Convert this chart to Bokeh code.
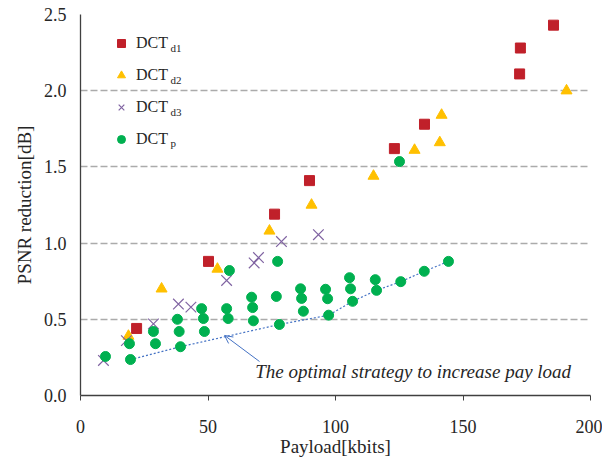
from bokeh.plotting import figure
from bokeh.models import (Range1d, FixedTicker, PrintfTickFormatter, Legend, LegendItem,
                          Label, Arrow, OpenHead)
from bokeh.embed import file_html
from bokeh.resources import INLINE

# ---- data ----
d1_x = [22.0, 50.2, 76.1, 89.8, 123.1, 134.9, 172.2, 172.5, 185.5]
d1_y = [0.44, 0.88, 1.19, 1.41, 1.62, 1.78, 2.11, 2.28, 2.43]

d2_x = [18.8, 31.8, 53.7, 74.1, 90.6, 114.9, 131.0, 141.6, 140.9, 190.6]
d2_y = [0.39, 0.70, 0.83, 1.08, 1.25, 1.44, 1.61, 1.84, 1.66, 2.00]

d3_x = [9.0, 18.0, 28.6, 38.4, 43.3, 57.3, 68.1, 69.8, 78.8, 93.3]
d3_y = [0.23, 0.36, 0.47, 0.60, 0.58, 0.755, 0.87, 0.905, 1.01, 1.055]

p_x = [9.8, 19.2, 19.6, 28.6, 29.4, 38.0, 38.7, 39.2, 47.5, 48.2, 48.6, 57.3, 57.9,
       58.4, 67.1, 67.5, 67.8, 77.3, 76.8, 78.0, 86.3, 86.7, 87.4, 96.1, 96.9, 97.3,
       105.5, 105.9, 106.7, 115.6, 116.1, 125.6, 134.8, 144.3, 125.1]
p_y = [0.256, 0.34, 0.236, 0.42, 0.34, 0.50, 0.42, 0.32, 0.57, 0.505, 0.42, 0.57, 0.505,
       0.82, 0.645, 0.577, 0.49, 0.88, 0.65, 0.466, 0.70, 0.637, 0.553, 0.697, 0.635, 0.527,
       0.773, 0.70, 0.618, 0.76, 0.69, 0.747, 0.815, 0.88, 1.535]

opt_x = [19.6, 39.2, 78.0, 97.3, 106.7, 116.1, 125.6, 134.8, 144.3]
opt_y = [0.236, 0.32, 0.466, 0.527, 0.618, 0.69, 0.747, 0.815, 0.88]

x_ticks = [0, 50, 100, 150, 200]
y_ticks = [0.0, 0.5, 1.0, 1.5, 2.0, 2.5]

legend_base = "DCT"
legend_subs = ["d1", "d2", "d3", "p"]
annotation_text = "The optimal strategy to increase pay load"

FONT = "Liberation Serif"
TXT = "#262626"

p = figure(frame_width=510, frame_height=381, output_backend="svg", toolbar_location=None,
           x_range=Range1d(0, 200), y_range=Range1d(0, 2.5),
           min_border_left=80, min_border_right=12, min_border_top=14, min_border_bottom=40,
           x_axis_label="Payload[kbits]", y_axis_label="PSNR reduction[dB]")
p.outline_line_color = None
p.background_fill_color = "white"

# grid
p.xgrid.grid_line_color = None
p.ygrid.ticker = FixedTicker(ticks=y_ticks)
p.ygrid.grid_line_color = "#ABABAB"
p.ygrid.grid_line_width = 1.3
p.ygrid.grid_line_dash = "7 3"

# axes
for ax in (p.xaxis[0], p.yaxis[0]):
    ax.axis_line_color = "#404040"
    ax.axis_line_width = 1.3
    ax.major_tick_line_color = "#404040"
    ax.minor_tick_line_color = None
    ax.major_label_text_font = FONT
    ax.major_label_text_font_size = "18px"
    ax.major_label_text_color = TXT
    ax.axis_label_text_font = FONT
    ax.axis_label_text_font_size = "19px"
    ax.axis_label_text_font_style = "normal"
    ax.axis_label_text_color = TXT

p.xaxis.ticker = FixedTicker(ticks=x_ticks)
p.xaxis.major_tick_out = 5
p.xaxis.major_tick_in = 0
p.xaxis.major_label_standoff = 19
p.xaxis.axis_label_standoff = 0

p.yaxis.ticker = FixedTicker(ticks=y_ticks)
p.yaxis.formatter = PrintfTickFormatter(format="%.1f")
p.yaxis.major_tick_out = 0
p.yaxis.major_tick_in = 0
p.yaxis.major_label_standoff = 14
p.yaxis.axis_label_standoff = 6

# optimal strategy line
p.line(opt_x, opt_y, line_color="#4472C4", line_width=1.2, line_dash="2 2")

# series
r1 = p.scatter(d1_x, d1_y, marker="square", size=10, fill_color="#C0202A", line_color="#C0202A")
r2 = p.scatter(d2_x, d2_y, marker="triangle", size=11, fill_color="#FFC000", line_color="#FFC000")
r3 = p.scatter(d3_x, d3_y, marker="x", size=15, line_color="#8064A2", line_width=1.2)
r4 = p.scatter(p_x, p_y, marker="circle", size=10, fill_color="#00B050", line_color="#00B050")

# annotation
p.add_layout(Arrow(end=OpenHead(size=8, line_color="#4472C4", line_width=1),
                   x_start=70.2, y_start=0.223, x_end=56.5, y_end=0.394,
                   line_color="#4472C4", line_width=1))
p.add_layout(Label(x=68.5, y=0.155, text=annotation_text, text_font=FONT,
                   text_font_size="19px", text_font_style="italic", text_color=TXT,
                   text_baseline="middle"))

# legend
legend = Legend(items=[LegendItem(label=legend_base, renderers=[r]) for r in (r1, r2, r3, r4)],
                location=(31, 246), padding=0, margin=0, spacing=12,
                glyph_width=20, glyph_height=20, label_standoff=5, label_height=20,
                label_text_font=FONT, label_text_font_size="16px", label_text_color=TXT,
                border_line_color=None, background_fill_alpha=0)
p.add_layout(legend)

sub_y = [2.277, 2.067, 1.857, 1.654]
for s, yy in zip(legend_subs, sub_y):
    p.add_layout(Label(x=35.3, y=yy, text=s, text_font=FONT, text_font_size="11px",
                       text_color=TXT, text_baseline="middle"))

open("out.html", "w").write(file_html(p, INLINE))
